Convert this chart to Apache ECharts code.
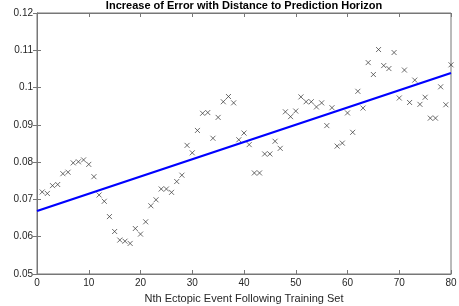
<!DOCTYPE html>
<html style="height: 100%">
<head>
<meta charset="utf-8">
<script src="https://cdn.jsdelivr.net/npm/echarts@6/dist/echarts.min.js"></script>
</head>
<body style="height: 100%; margin: 0; background: #fff">
<div id="container" style="width: 459px; height: 306px;"></div>
<script type="text/javascript">
// event index (1..80) and prediction error
var eventIndex = [];
for (var i = 1; i <= 80; i++) eventIndex.push(i);
var errorValues = [
  0.0720, 0.0716, 0.0737, 0.0740, 0.0769, 0.0773, 0.0798, 0.0801, 0.0806, 0.0794,
  0.0761, 0.0712, 0.0695, 0.0654, 0.0614, 0.0591, 0.0588, 0.0582, 0.0622, 0.0607,
  0.0640, 0.0683, 0.0699, 0.0728, 0.0728, 0.0719, 0.0748, 0.0765, 0.0845, 0.0825,
  0.0885, 0.0931, 0.0933, 0.0864, 0.0920, 0.0962, 0.0976, 0.0959, 0.0860, 0.0878,
  0.0847, 0.0771, 0.0771, 0.0822, 0.0822, 0.0856, 0.0837, 0.0935, 0.0922, 0.0937,
  0.0975, 0.0962, 0.0962, 0.0948, 0.0959, 0.0898, 0.0946, 0.0843, 0.0851, 0.0932,
  0.0880, 0.0990, 0.0945, 0.1067, 0.1035, 0.1102, 0.1059, 0.1051, 0.1094, 0.0972,
  0.1047, 0.0960, 0.1020, 0.0955, 0.0974, 0.0918, 0.0918, 0.1002, 0.0954, 0.1061
];
// linear fit end points
var fitX = [0, 80];
var fitY = [0.0669, 0.1039];

var scatterData = eventIndex.map(function (x, k) { return [x, errorValues[k]]; });
var fitData = fitX.map(function (x, k) { return [x, fitY[k]]; });

var axisGray = '#777';
var textGray = '#262626';
var font = 'Liberation Sans, Arial, sans-serif';

var chart = echarts.init(document.getElementById('container'));
var option = {
  animation: false,
  title: {
    text: 'Increase of Error with Distance to Prediction Horizon',
    left: 244, top: 0, textAlign: 'center', padding: 0,
    textStyle: { fontFamily: font, fontSize: 11, fontWeight: 'bold', color: '#000', lineHeight: 12 }
  },
  grid: {
    left: 37, right: 8, top: 13, bottom: 32,
    outerBoundsMode: 'none', containLabel: false,
    show: true, borderColor: axisGray, borderWidth: 1
  },
  xAxis: [{
    type: 'value', min: 0, max: 80, interval: 10,
    name: 'Nth Ectopic Event Following Training Set',
    nameLocation: 'middle', nameGap: 19,
    nameTextStyle: { fontFamily: font, fontSize: 11, color: textGray },
    axisLine: { show: true, lineStyle: { color: axisGray } },
    axisTick: { inside: true, length: 4, lineStyle: { color: axisGray } },
    axisLabel: { fontFamily: font, fontSize: 10, color: textGray, margin: 4 },
    splitLine: { show: false }
  }, {
    type: 'value', min: 0, max: 80, interval: 10, position: 'top',
    axisLine: { show: true, lineStyle: { color: axisGray } },
    axisTick: { inside: true, length: 4, lineStyle: { color: axisGray } },
    axisLabel: { show: false }, splitLine: { show: false }
  }],
  yAxis: [{
    type: 'value', min: 0.05, max: 0.12, interval: 0.01,
    name: 'Error', nameLocation: 'middle', nameGap: 27, nameRotate: 90,
    nameTextStyle: { fontFamily: font, fontSize: 11, color: textGray },
    axisLine: { show: true, lineStyle: { color: axisGray } },
    axisTick: { inside: true, length: 4, lineStyle: { color: axisGray } },
    axisLabel: {
      fontFamily: font, fontSize: 10, color: textGray, margin: 4,
      formatter: function (v) { return String(+v.toFixed(2)); }
    },
    splitLine: { show: false }
  }, {
    type: 'value', min: 0.05, max: 0.12, interval: 0.01, position: 'right',
    axisLine: { show: true, lineStyle: { color: axisGray } },
    axisTick: { inside: true, length: 4, lineStyle: { color: axisGray } },
    axisLabel: { show: false }, splitLine: { show: false }
  }],
  series: [{
    type: 'scatter',
    data: scatterData,
    symbol: 'path://M0,0L10,10M10,0L0,10',
    symbolSize: 5,
    itemStyle: { color: 'none', borderColor: '#333', borderWidth: 0.9 }
  }, {
    type: 'line',
    data: fitData,
    symbol: 'none',
    lineStyle: { color: '#0000ff', width: 2.2 }
  }]
};
chart.setOption(option);
</script>
</body>
</html>
